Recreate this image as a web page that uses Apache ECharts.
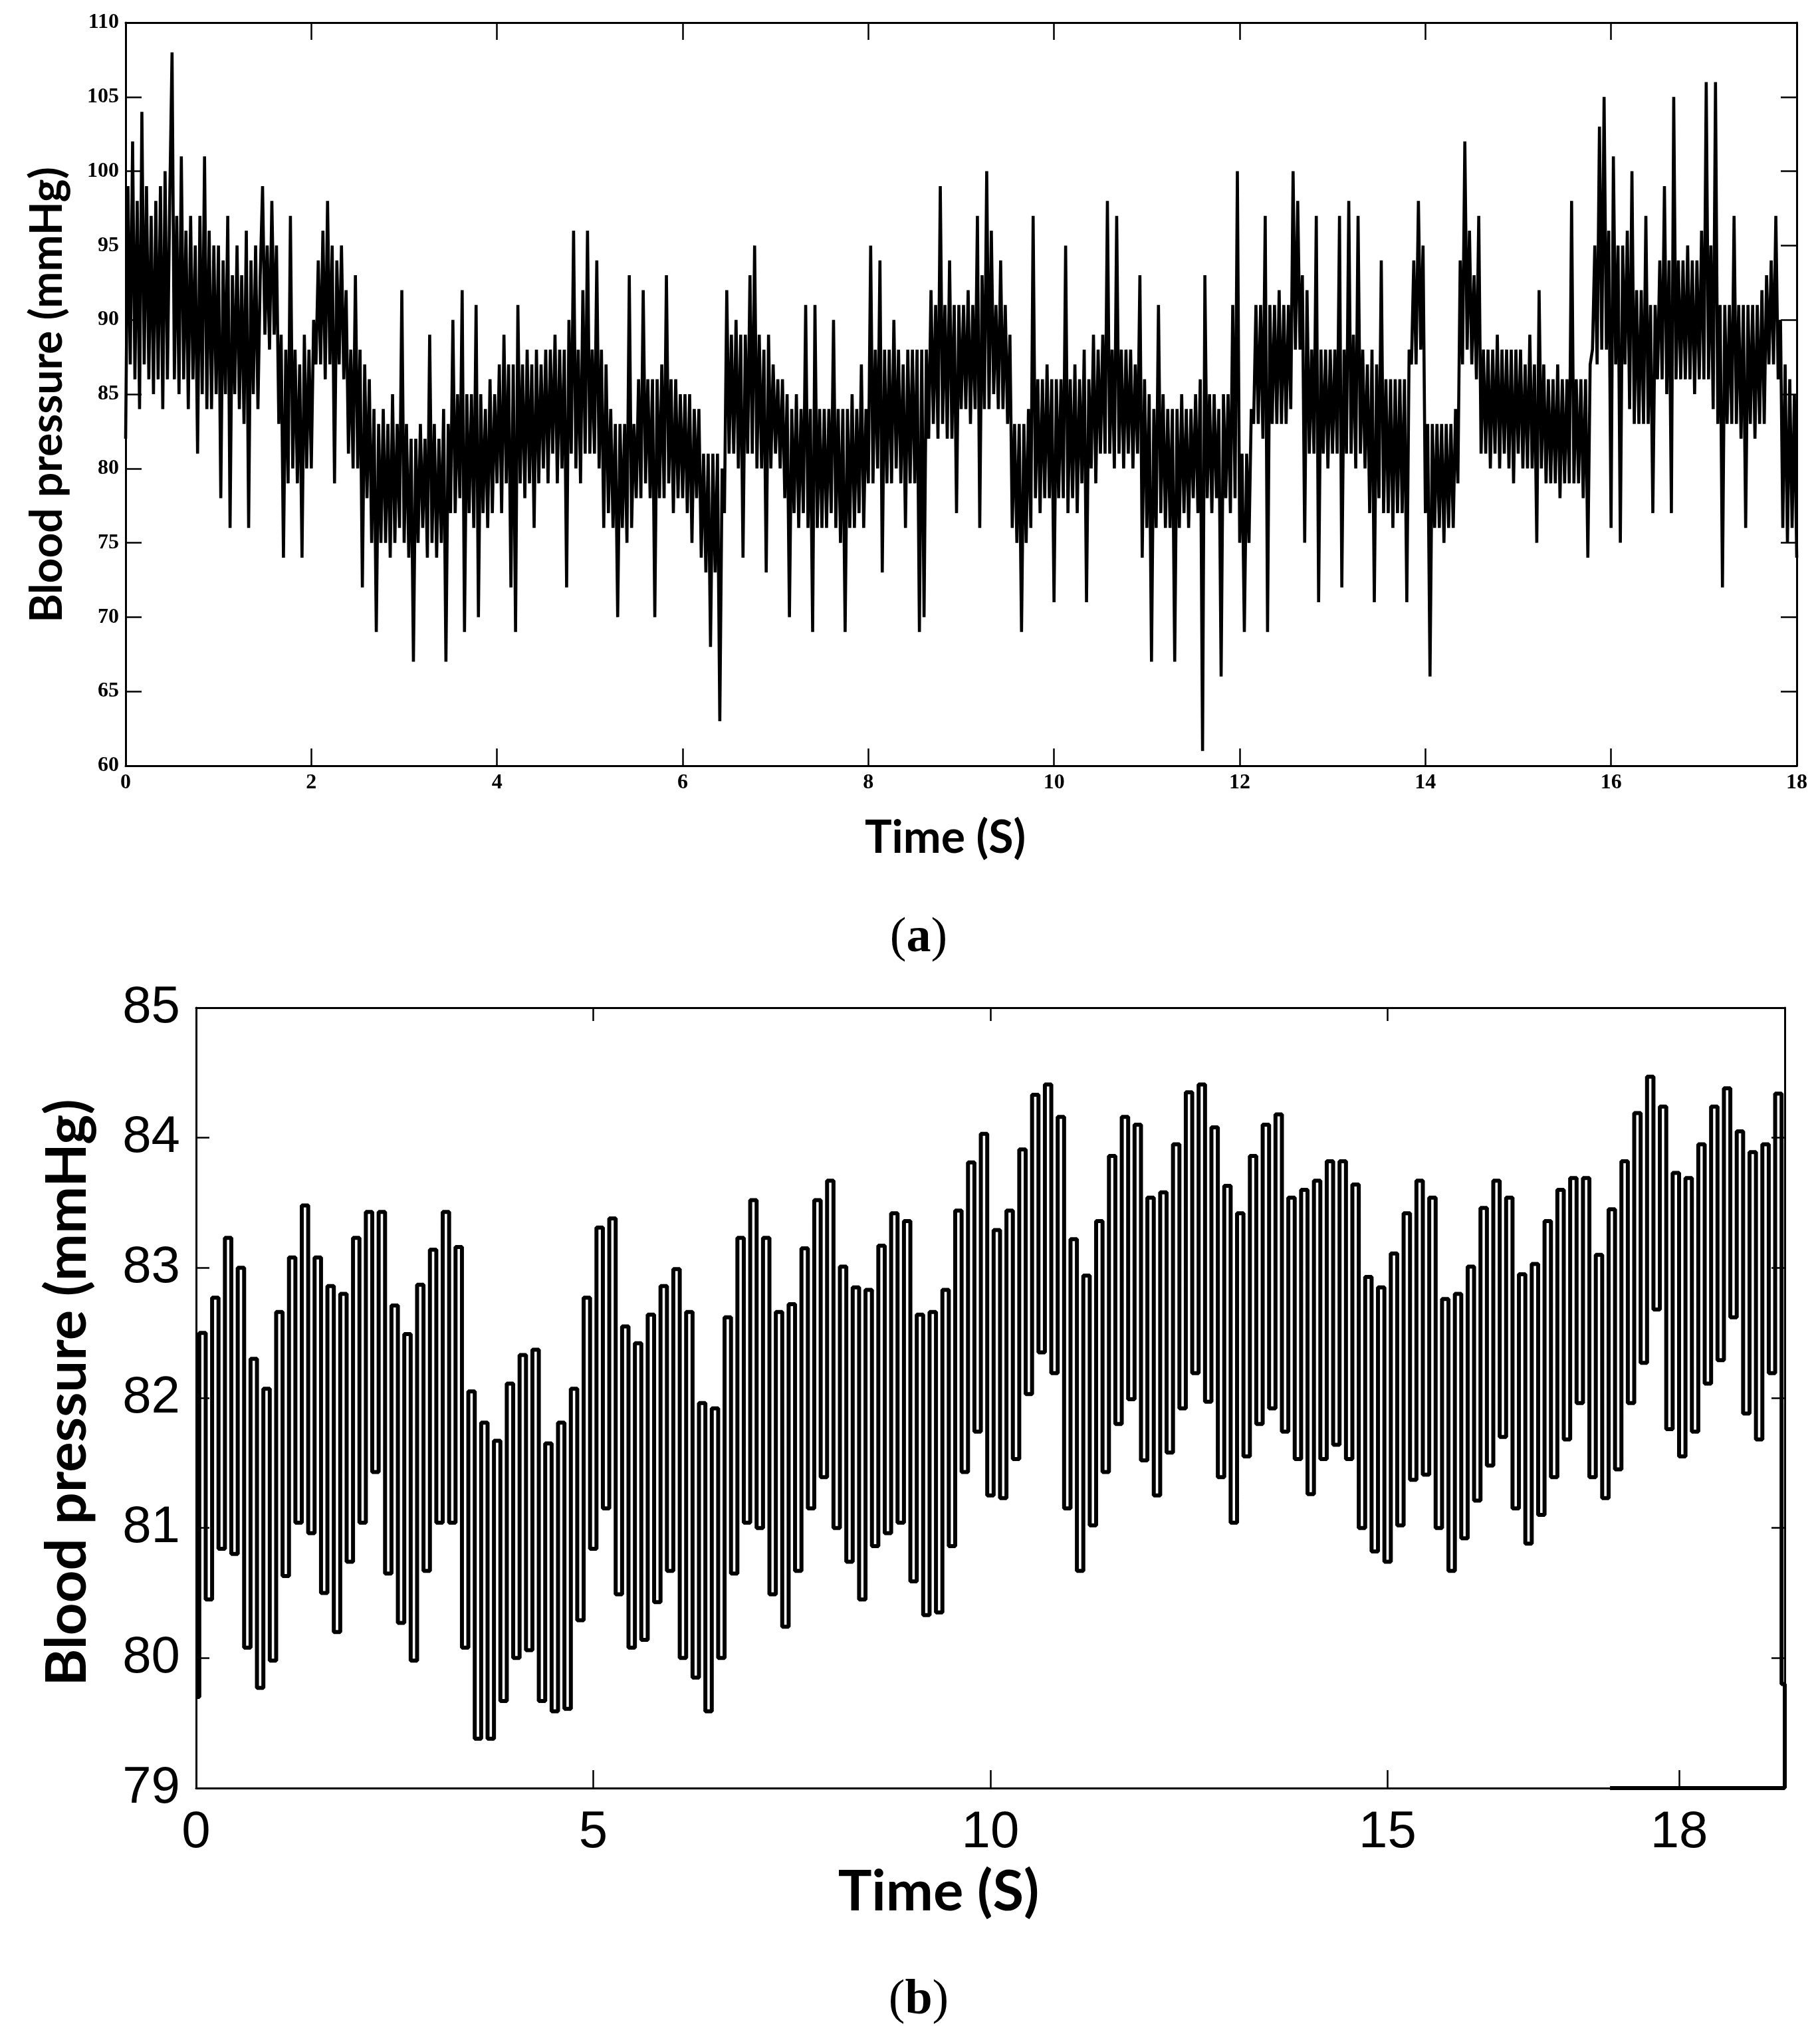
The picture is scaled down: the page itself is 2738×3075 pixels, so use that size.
<!DOCTYPE html>
<html>
<head>
<meta charset="utf-8">
<script src="https://cdn.jsdelivr.net/npm/echarts@6/dist/echarts.min.js"></script>
<style>
  html, body { margin: 0; padding: 0; background: #fff; }
  #chart { width: 2738px; height: 3075px; }
</style>
</head>
<body>
<div id="chart"></div>
<script>
// panel (a): raw pressure trace, one sample every 0.025 s, 0..18 s
const stepA = 0.025;
const pressureA = [
  82, 99, 87, 102, 86, 98, 84, 104, 87, 99, 86, 97, 85, 98, 86, 99, 84, 100, 86, 98,
  108, 86, 97, 85, 101, 86, 96, 84, 97, 86, 95, 81, 97, 85, 101, 84, 96, 84, 95, 85,
  95, 78, 94, 85, 97, 76, 93, 85, 95, 84, 93, 83, 96, 76, 94, 85, 95, 84, 93, 99,
  89, 95, 88, 98, 89, 95, 83, 89, 74, 88, 79, 97, 80, 88, 79, 87, 74, 89, 80, 88,
  80, 90, 87, 94, 87, 96, 86, 98, 87, 95, 79, 94, 87, 95, 86, 92, 81, 88, 80, 93,
  80, 88, 72, 87, 78, 86, 75, 84, 69, 83, 75, 84, 75, 83, 74, 85, 75, 83, 76, 92,
  75, 83, 74, 82, 67, 82, 75, 83, 76, 82, 74, 89, 75, 83, 74, 82, 75, 84, 67, 83,
  77, 90, 77, 85, 78, 92, 69, 85, 77, 85, 76, 91, 70, 85, 77, 84, 76, 86, 77, 85,
  79, 87, 77, 89, 79, 87, 72, 87, 69, 91, 79, 87, 78, 88, 79, 87, 76, 88, 79, 87,
  80, 88, 79, 88, 81, 89, 79, 88, 80, 88, 72, 90, 81, 96, 80, 88, 79, 92, 81, 96,
  81, 88, 81, 94, 80, 88, 76, 87, 77, 84, 76, 83, 70, 83, 76, 83, 75, 93, 76, 83,
  78, 86, 78, 92, 79, 86, 78, 86, 70, 86, 78, 87, 78, 93, 79, 86, 77, 86, 78, 85,
  78, 85, 77, 85, 75, 84, 78, 84, 74, 81, 73, 81, 68, 81, 73, 81, 63, 80, 77, 92,
  81, 89, 81, 90, 80, 89, 74, 89, 81, 93, 81, 95, 80, 89, 80, 88, 73, 89, 80, 87,
  81, 86, 80, 86, 78, 85, 70, 84, 77, 85, 76, 84, 77, 91, 76, 84, 69, 91, 76, 84,
  76, 84, 76, 84, 77, 90, 76, 84, 75, 84, 69, 84, 76, 85, 76, 84, 77, 87, 76, 84,
  79, 95, 79, 88, 80, 94, 73, 88, 79, 88, 79, 90, 80, 88, 79, 87, 76, 88, 79, 88,
  79, 88, 69, 88, 70, 88, 82, 92, 83, 91, 82, 99, 83, 91, 82, 94, 82, 91, 77, 91,
  84, 91, 84, 92, 83, 91, 84, 97, 76, 93, 84, 100, 84, 96, 85, 91, 84, 94, 84, 91,
  83, 89, 76, 83, 75, 83, 69, 83, 75, 84, 76, 97, 78, 86, 77, 86, 78, 87, 78, 86,
  71, 86, 78, 86, 78, 95, 77, 86, 78, 87, 77, 86, 79, 88, 71, 86, 80, 89, 79, 88,
  81, 89, 81, 98, 81, 88, 80, 97, 81, 88, 80, 88, 81, 88, 80, 87, 81, 93, 74, 86,
  76, 85, 67, 84, 76, 91, 77, 85, 76, 84, 76, 84, 67, 84, 76, 85, 77, 84, 76, 84,
  78, 85, 77, 86, 61, 93, 78, 85, 77, 85, 78, 84, 66, 85, 78, 85, 77, 91, 78, 100,
  75, 81, 69, 81, 75, 84, 83, 91, 83, 91, 82, 97, 69, 91, 83, 91, 83, 92, 83, 91,
  83, 91, 84, 100, 88, 98, 88, 93, 75, 92, 81, 88, 81, 97, 71, 88, 81, 88, 80, 88,
  81, 88, 81, 97, 72, 88, 81, 98, 81, 89, 80, 97, 81, 88, 80, 87, 77, 88, 71, 87,
  78, 94, 77, 86, 77, 86, 76, 86, 77, 86, 77, 86, 71, 88, 87, 94, 87, 98, 88, 95,
  77, 83, 66, 83, 76, 83, 76, 83, 75, 83, 76, 83, 76, 84, 79, 94, 87, 102, 88, 96,
  87, 93, 86, 97, 81, 88, 81, 88, 80, 88, 81, 89, 80, 88, 81, 88, 80, 88, 79, 88,
  81, 88, 80, 87, 80, 89, 80, 87, 75, 92, 80, 87, 79, 86, 79, 86, 79, 87, 78, 86,
  79, 86, 79, 98, 79, 86, 79, 86, 78, 86, 74, 87, 88, 95, 87, 103, 88, 105, 88, 96,
  76, 101, 87, 95, 75, 95, 87, 96, 84, 100, 83, 92, 83, 92, 83, 97, 83, 91, 77, 91,
  86, 94, 86, 99, 85, 94, 77, 105, 86, 94, 86, 94, 86, 95, 86, 94, 85, 94, 86, 96,
  86, 106, 86, 95, 84, 106, 83, 91, 72, 91, 83, 91, 83, 97, 83, 91, 82, 91, 76, 91,
  83, 91, 82, 91, 83, 92, 83, 93, 87, 94, 87, 97, 86, 90, 76, 87, 75, 86, 76, 85, 74
];

// panel (b): filtered trace, peak / trough pairs, 0..20 on the axis
const stepB = 20 / 248;
const pressureB = [
  79.7,
  82.5, 80.45, 82.77, 80.84, 83.23, 80.8, 83.0, 80.08, 82.3, 79.77,
  82.07, 79.98, 82.66, 80.63, 83.08, 81.04, 83.48, 80.96, 83.08, 80.5,
  82.86, 80.2, 82.8, 80.74, 83.23, 81.04, 83.43, 81.43, 83.43, 80.65,
  82.71, 80.27, 82.49, 79.98, 82.87, 80.67, 83.14, 81.04, 83.43, 81.04,
  83.16, 80.08, 82.05, 79.38, 81.81, 79.38, 81.67, 79.67, 82.11, 80.0,
  82.33, 80.06, 82.37, 79.67, 81.65, 79.59, 81.81, 79.61, 82.07, 80.29,
  82.77, 80.84, 83.31, 81.15, 83.38, 80.49, 82.55, 80.08, 82.42, 80.14,
  82.64, 80.43, 82.86, 80.67, 82.99, 80.0, 82.66, 79.85, 81.96, 79.59,
  81.92, 80.0, 82.62, 80.65,
  83.23, 81.04, 83.52, 81.0, 83.23, 80.49, 82.66, 80.24, 82.72, 80.67,
  83.15, 81.15, 83.52, 81.39, 83.67, 81.0, 83.01, 80.74, 82.85, 80.45,
  82.83, 80.86, 83.17, 80.96, 83.42, 81.04, 83.36, 80.59, 82.64, 80.33,
  82.66, 80.35, 82.83, 80.86, 83.44, 81.43, 83.81, 81.74, 84.03, 81.25,
  83.29, 81.23, 83.44, 81.53, 83.91, 82.03, 84.33, 82.35, 84.41, 82.19,
  84.16, 81.15, 83.22, 80.67, 82.94, 81.02, 83.36, 81.43, 83.86, 81.8,
  84.16, 81.99, 84.1, 81.52, 83.54, 81.25, 83.58, 81.58, 83.95, 81.92,
  84.35, 82.19, 84.41, 81.97, 84.08, 81.39, 83.63, 81.04, 83.42, 81.55,
  83.86, 81.8,
  84.1, 81.92, 84.18, 81.74, 83.54, 81.53, 83.6, 81.26, 83.67, 81.53,
  83.82, 81.64, 83.82, 81.53, 83.64, 81.0, 82.93, 80.82, 82.85, 80.74,
  83.11, 81.02, 83.42, 81.37, 83.67, 81.41, 83.54, 81.0, 82.76, 80.67,
  82.8, 80.92, 83.01, 81.21, 83.46, 81.48, 83.67, 81.7, 83.54, 81.15,
  82.95, 80.88, 83.03, 81.1, 83.36, 81.39, 83.6, 81.68, 83.69, 81.96,
  83.69, 81.39, 83.1, 81.23, 83.45, 81.45, 83.82, 81.96, 84.19, 82.27,
  84.47, 82.68, 84.24, 81.76, 83.73, 81.55, 83.69, 81.74, 83.95, 82.11,
  84.24, 82.29, 84.38, 82.62, 84.05, 81.88, 83.89, 81.68, 83.95, 82.19,
  84.34, 79.8
];
const endB = [20, 79];
// the heavier stroke along the bottom edge near the right corner
const baseStripB = [[17.8, 79], [20, 79]];

// tick labels
const xTicksB = [0, 5, 10, 15, 18.67];
const xLabelsB = ['0', '5', '10', '15', '18'];

const chart = echarts.init(document.getElementById('chart'), null, { renderer: 'canvas' });

const serifLabel = { fontFamily: 'Liberation Serif', fontWeight: 'bold', fontSize: 32, color: '#000' };
const sansLabel = { fontFamily: 'Liberation Sans', fontSize: 78, color: '#000' };
const axisLine = { show: true, onZero: false, lineStyle: { color: '#000', width: 3 } };

function seriesData(values, step) {
  return values.map((v, i) => [i * step, v]);
}

const dataB = seriesData(pressureB, stepB);
dataB.push(endB);

const option = {
  backgroundColor: '#fff',
  animation: false,
  grid: [
    { left: 189, top: 34, width: 2514, height: 1118 },
    { left: 295, top: 1516, width: 2390, height: 1174 }
  ],
  xAxis: [
    {
      gridIndex: 0, type: 'value', min: 0, max: 18, interval: 2, position: 'bottom',
      axisLine: axisLine,
      axisTick: { inside: true, length: 26, lineStyle: { color: '#000', width: 2.5 } },
      axisLabel: Object.assign({ margin: 10 }, serifLabel),
      splitLine: { show: false }
    },
    {
      gridIndex: 0, type: 'value', min: 0, max: 18, interval: 2, position: 'top',
      axisLine: axisLine,
      axisTick: { inside: true, length: 26, lineStyle: { color: '#000', width: 2.5 } },
      axisLabel: { show: false },
      splitLine: { show: false }
    },
    {
      gridIndex: 1, type: 'value', min: 0, max: 20, position: 'bottom',
      axisLine: axisLine,
      axisTick: { inside: true, length: 27, customValues: xTicksB, lineStyle: { color: '#000', width: 2.5 } },
      axisLabel: Object.assign({
        margin: 28,
        customValues: xTicksB,
        formatter: (v) => xLabelsB[xTicksB.indexOf(v)]
      }, sansLabel),
      splitLine: { show: false }
    },
    {
      gridIndex: 1, type: 'value', min: 0, max: 20, interval: 5, position: 'top',
      axisLine: axisLine,
      axisTick: { inside: true, length: 20, lineStyle: { color: '#000', width: 2.5 } },
      axisLabel: { show: false },
      splitLine: { show: false }
    }
  ],
  yAxis: [
    {
      gridIndex: 0, type: 'value', min: 60, max: 110, interval: 5, position: 'left',
      axisLine: axisLine,
      axisTick: { inside: true, length: 24, lineStyle: { color: '#000', width: 2.5 } },
      axisLabel: Object.assign({ margin: 10 }, serifLabel),
      splitLine: { show: false }
    },
    {
      gridIndex: 0, type: 'value', min: 60, max: 110, interval: 5, position: 'right',
      axisLine: axisLine,
      axisTick: { inside: true, length: 24, lineStyle: { color: '#000', width: 2.5 } },
      axisLabel: { show: false },
      splitLine: { show: false }
    },
    {
      gridIndex: 1, type: 'value', min: 79, max: 85, interval: 1, position: 'left',
      axisLine: axisLine,
      axisTick: { inside: true, length: 20, lineStyle: { color: '#000', width: 2.5 } },
      axisLabel: Object.assign({ margin: 24 }, sansLabel),
      splitLine: { show: false }
    },
    {
      gridIndex: 1, type: 'value', min: 79, max: 85, interval: 1, position: 'right',
      axisLine: axisLine,
      axisTick: { inside: true, length: 20, lineStyle: { color: '#000', width: 2.5 } },
      axisLabel: { show: false },
      splitLine: { show: false }
    }
  ],
  series: [
    {
      name: 'Blood pressure (a)', type: 'line', xAxisIndex: 0, yAxisIndex: 0,
      data: seriesData(pressureA, stepA),
      showSymbol: false, symbol: 'none',
      lineStyle: { color: '#000', width: 4.6, join: 'bevel' }
    },
    {
      name: 'Blood pressure (b)', type: 'line', xAxisIndex: 2, yAxisIndex: 2,
      data: dataB, step: 'middle',
      showSymbol: false, symbol: 'none',
      lineStyle: { color: '#000', width: 6 }
    },
    {
      name: 'edge', type: 'line', xAxisIndex: 2, yAxisIndex: 2,
      data: baseStripB, clip: false,
      showSymbol: false, symbol: 'none',
      lineStyle: { color: '#000', width: 6 }
    }
  ],
  graphic: [
    {
      type: 'text', x: 72, y: 594, rotation: Math.PI / 2,
      style: { text: 'Blood pressure (mmHg)', fontFamily: 'Lato', fontWeight: 'bold', fontSize: 66, fill: '#000', align: 'center', verticalAlign: 'middle' }
    },
    {
      type: 'text', x: 1422, y: 1261,
      style: { text: 'Time (S)', fontFamily: 'Lato', fontWeight: 'bold', fontSize: 68, fill: '#000', align: 'center', verticalAlign: 'middle' }
    },
    {
      type: 'text', x: 1382, y: 1412,
      style: {
        text: '({l|a})', fontFamily: 'Liberation Serif', fontSize: 74, fill: '#000', align: 'center', verticalAlign: 'middle',
        rich: { l: { fontFamily: 'Liberation Serif', fontWeight: 'bold', fontSize: 74, fill: '#000' } }
      }
    },
    {
      type: 'text', x: 102, y: 2095, rotation: Math.PI / 2,
      style: { text: 'Blood pressure (mmHg)', fontFamily: 'Lato', fontWeight: 'bold', fontSize: 85, fill: '#000', align: 'center', verticalAlign: 'middle' }
    },
    {
      type: 'text', x: 1412, y: 2847,
      style: { text: 'Time (S)', fontFamily: 'Lato', fontWeight: 'bold', fontSize: 85, fill: '#000', align: 'center', verticalAlign: 'middle' }
    },
    {
      type: 'text', x: 1382, y: 3010,
      style: {
        text: '({l|b})', fontFamily: 'Liberation Serif', fontSize: 74, fill: '#000', align: 'center', verticalAlign: 'middle',
        rich: { l: { fontFamily: 'Liberation Serif', fontWeight: 'bold', fontSize: 74, fill: '#000' } }
      }
    }
  ]
};

chart.setOption(option);
</script>
</body>
</html>
